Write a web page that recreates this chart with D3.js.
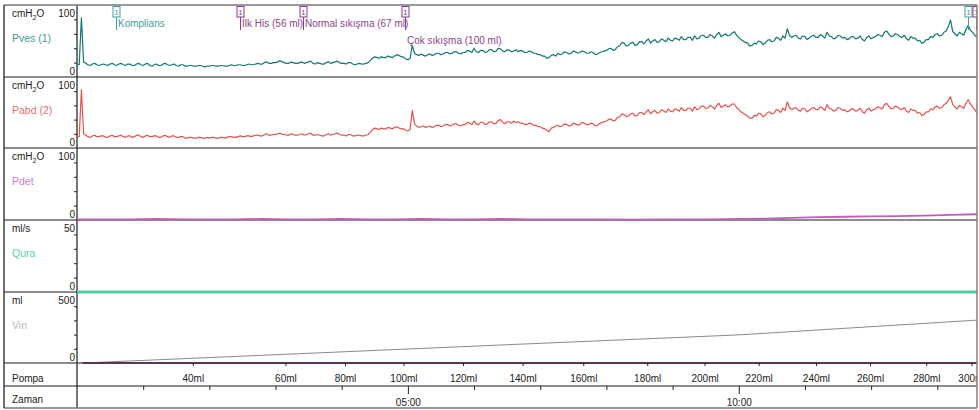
<!DOCTYPE html>
<html>
<head>
<meta charset="utf-8">
<script src="https://cdn.jsdelivr.net/npm/d3@7/dist/d3.min.js"></script>
<style>
  body { margin: 0; background: #fff; }
  svg { display: block; font-family: "Liberation Sans", Arial, sans-serif; }
</style>
</head>
<body>
<svg id="chart" width="979" height="410"></svg>
<script>
// --- data ---
const sampleSec = 2; // Pves / Pabd sample step (s)
const pvesValues = [
  17,17, 82,21, 19,17, 16,18, 19,17, 16,17, 18,17, 16,18, 19,17, 16,18,
  19,17, 16,18, 18,16, 16,18, 19,17, 16,18, 19,16, 15,17, 18,16, 16,18,
  19,17, 16,17, 18,16, 15,17, 17,15, 15,16, 16,15, 15,16, 16,15, 14,15,
  15,16, 16,15, 15,16, 16,15, 15,16, 17,16, 16,17, 17,16, 16,17, 18,17,
  17,18, 19,18, 18,20, 21,19, 19,20, 20,21, 23,21, 20,19, 19,21, 20,19,
  19,20, 21,19, 20,21, 22,19, 18,20, 19,18, 18,20, 21,19, 20,21, 22,20,
  19,19, 18,20, 20,18, 17,18, 19,18, 18,19, 20,23, 26,28, 27,26, 28,27,
  27,29, 28,27, 29,31, 30,28, 28,25, 24,26, 44,33, 31,30, 32,30, 29,31,
  32,30, 31,33, 33,31, 32,34, 34,32, 33,35, 35,33, 32,34, 34,37, 36,34,
  40,35, 34,37, 37,34, 35,38, 38,35, 36,40, 39,36, 35,38, 37,35, 36,38,
  35,37, 36,34, 34,36, 35,33, 33,31, 31,29, 29,26, 27,30, 31,29, 33,31,
  32,35, 34,32, 33,36, 35,33, 34,36, 35,33, 33,35, 34,31, 32,34, 35,36,
  37,39, 40,37, 38,42, 43,48, 47,43, 44,47, 48,44, 45,49, 49,46, 50,53,
  47,50, 52,48, 49,53, 51,49, 54,51, 50,54, 53,51, 56,52, 52,55, 55,51,
  57,53, 54,58, 58,55, 55,59, 57,54, 59,62, 56,58, 60,57, 58,61, 63,58,
  55,52, 50,48, 47,43, 44,47, 46,50, 49,45, 47,51, 52,49, 50,55, 54,51,
  57,54, 67,58, 55,57, 58,54, 53,57, 56,52, 54,57, 58,55, 55,59, 57,54,
  62,57, 56,53, 54,58, 57,54, 55,52, 53,56, 56,53, 54,57, 52,50, 55,57,
  53,55, 56,59, 58,56, 62,64, 60,56, 57,60, 59,56, 55,58, 53,51, 56,54,
  54,50, 51,47, 48,52, 52,56, 55,59, 60,57, 58,62, 64,70, 79,63, 60,57,
  62,60, 58,66, 72,65, 62,58, 55
];
const pabdValues = [
  16,16, 82,20, 18,16, 15,17, 18,16, 16,17, 17,15, 15,17, 18,16, 16,17,
  18,16, 15,17, 17,15, 16,18, 18,16, 15,17, 18,16, 16,17, 17,15, 15,17,
  18,16, 15,17, 17,15, 15,16, 16,14, 14,15, 15,14, 14,15, 15,14, 14,15,
  14,15, 15,14, 14,15, 15,14, 15,16, 16,15, 15,16, 17,16, 16,17, 17,16,
  17,18, 18,17, 17,19, 20,18, 18,19, 19,20, 21,19, 19,18, 18,20, 19,18,
  18,19, 20,18, 19,20, 21,18, 18,19, 18,17, 17,19, 20,18, 19,20, 21,19,
  18,18, 17,19, 19,17, 17,18, 18,17, 17,18, 19,22, 26,28, 27,26, 28,27,
  27,29, 28,27, 29,30, 28,27, 27,25, 24,26, 53,34, 31,29, 30,31, 29,30,
  31,29, 30,32, 32,30, 31,33, 33,31, 32,34, 34,32, 31,33, 33,36, 35,33,
  38,34, 33,36, 36,33, 34,37, 37,34, 35,39, 40,36, 34,37, 37,35, 38,36,
  37,35, 35,33, 33,35, 34,32, 32,30, 30,28, 27,25, 23,28, 29,31, 32,30,
  31,34, 33,31, 32,35, 34,32, 33,36, 35,33, 33,35, 34,31, 32,35, 36,37,
  38,40, 41,38, 39,43, 44,48, 47,44, 45,48, 49,45, 46,50, 50,47, 51,54,
  48,51, 53,49, 50,54, 52,50, 55,52, 51,55, 54,52, 57,53, 53,56, 56,52,
  58,54, 55,59, 59,56, 56,60, 58,55, 60,63, 57,59, 61,58, 59,62, 62,57,
  54,51, 49,47, 45,42, 42,46, 45,49, 48,44, 46,50, 51,48, 49,54, 53,50,
  56,53, 65,57, 54,56, 57,53, 52,56, 55,51, 53,56, 57,54, 54,58, 56,53,
  61,56, 55,52, 53,57, 56,53, 54,51, 52,55, 55,52, 53,56, 51,49, 54,56,
  52,54, 55,58, 57,55, 61,63, 59,55, 56,59, 58,55, 54,57, 52,50, 55,53,
  53,49, 50,46, 47,51, 51,55, 54,58, 59,56, 57,61, 63,67, 72,61, 58,55,
  60,58, 56,63, 68,62, 58,54, 49
];
const pdetStepSec = 24;
const pdetValues = [
  1, 1, 1, 1.5, 1, 1, 1, 1.5, 1, 1,
  1.5, 1, 1, 1.5, 1, 1, 1.5, 1, 1, 1,
  1, 0.5, 1, 1, 1, 1.5, 2, 3, 4, 4.5,
  5, 5.5, 6, 7, 8
];
const quraTimes = [0, 816];
const quraValues = [0, 0];
const vinTimes = [5, 200, 400, 600, 816];
const vinValues = [0, 65, 132, 198, 302];
const pumpRun = [5, 816];

const pumpVolumes = [40, 60, 80, 100, 120, 140, 160, 180, 200, 220, 240, 260, 280, 300];
const pumpTimes = [105, 189, 243, 296, 350, 404, 459, 517, 569, 618, 670, 719, 770, 811];
const minuteTicks = [1, 2, 3, 4, 5, 6, 7, 8, 9, 10, 11, 12, 13];
const minuteLabels = [5, 10];

const markerTimes = [35, 148, 205, 297, 808, 815];
const markerLabels = ['Komplians', 'İlk His (56 ml)', 'Normal sıkışma (67 ml)', 'Çok sıkışma (100 ml)', '', ''];
const markerKinds = ['event', 'sense', 'sense', 'sense', 'event', 'sense'];
const markerRows = [0, 0, 0, 1, 0, 0];

// --- layout ---
const W = 979, H = 410;
const frameL = 4, divX = 77, frameR = 977, frameT = 5, frameB = 408;
const totalSec = 816;

const panels = [
  { unit: 'cmH2O', name: 'Pves (1)', max: 100, ticks: [20, 40, 60, 80], top: 5, bottom: 77, nameColor: '#3f9b96' },
  { unit: 'cmH2O', name: 'Pabd (2)', max: 100, ticks: [20, 40, 60, 80], top: 77, bottom: 148, nameColor: '#e2706b' },
  { unit: 'cmH2O', name: 'Pdet', max: 100, ticks: [20, 40, 60, 80], top: 148, bottom: 220, nameColor: '#d27ccd' },
  { unit: 'ml/s', name: 'Qura', max: 50, ticks: [10, 20, 30, 40], top: 220, bottom: 292, nameColor: '#62d0aa' },
  { unit: 'ml', name: 'Vin', max: 500, ticks: [100, 200, 300, 400], top: 292, bottom: 363, nameColor: '#b9b9b9' }
];
const pompaY = 363, zamanY = 386;

const svg = d3.select('#chart');
svg.append('rect').attr('width', W).attr('height', H).attr('fill', '#fff');

const x = d3.scaleLinear().domain([0, totalSec]).range([divX, frameR]);
panels.forEach(p => {
  p.y = d3.scaleLinear().domain([0, p.max]).range([p.bottom, p.top]);
});

svg.append('clipPath').attr('id', 'plotClip')
  .append('rect').attr('x', divX).attr('y', frameT).attr('width', frameR - divX).attr('height', frameB - frameT);

// panel labels and y ticks
panels.forEach(p => {
  const g = svg.append('g');
  const u = g.append('text').attr('x', 12).attr('y', p.top + 8).attr('dy', '0.35em')
    .attr('font-size', 10).attr('fill', '#222');
  if (p.unit === 'cmH2O') {
    u.append('tspan').text('cmH');
    u.append('tspan').text('2').attr('font-size', 7).attr('dy', 3);
    u.append('tspan').text('O').attr('dy', -3);
  } else {
    u.text(p.unit);
  }
  g.append('text').attr('x', 12).attr('y', p.top + 33).attr('dy', '0.35em')
    .attr('font-size', 10.5).attr('fill', p.nameColor).text(p.name);
  g.append('text').attr('x', 75).attr('y', p.top + 8).attr('dy', '0.35em')
    .attr('text-anchor', 'end').attr('font-size', 10).attr('fill', '#222').text(p.max);
  g.append('text').attr('x', 75).attr('y', p.bottom - 6).attr('dy', '0.35em')
    .attr('text-anchor', 'end').attr('font-size', 10).attr('fill', '#222').text(0);

  const ax = svg.append('g').attr('transform', `translate(${divX},0)`)
    .call(d3.axisLeft(p.y).tickValues(p.ticks).tickSize(3).tickFormat(''));
  ax.select('.domain').remove();
  ax.selectAll('line').attr('stroke', '#222');
});

// row labels
svg.append('text').attr('x', 12).attr('y', 378).attr('dy', '0.35em')
  .attr('font-size', 10).attr('fill', '#222').text('Pompa');
svg.append('text').attr('x', 12).attr('y', 399).attr('dy', '0.35em')
  .attr('font-size', 10).attr('fill', '#222').text('Zaman');

// grid separators
const sepYs = [77, 148, 220, 292, 363, 386];
svg.append('g').selectAll('line').data(sepYs).join('line')
  .attr('x1', frameL).attr('x2', frameR).attr('y1', d => d).attr('y2', d => d)
  .attr('stroke', '#1a1a1a').attr('stroke-width', 1.2);
svg.append('line').attr('x1', divX).attr('x2', divX).attr('y1', frameT).attr('y2', frameB)
  .attr('stroke', '#1a1a1a').attr('stroke-width', 1.2);

// traces
const plot = svg.append('g').attr('clip-path', 'url(#plotClip)');
function trace(times, values, p, color, w) {
  const line = d3.line().x((d, i) => x(times[i])).y(d => p.y(d));
  plot.append('path').datum(values)
    .attr('d', line).attr('fill', 'none')
    .attr('stroke', color).attr('stroke-width', w).attr('stroke-linejoin', 'round');
}
const fastTimes = pvesValues.map((d, i) => i * sampleSec);
const pdetTimes = pdetValues.map((d, i) => i * pdetStepSec);

trace(fastTimes, pvesValues, panels[0], '#13776f', 1.2);
trace(fastTimes, pabdValues, panels[1], '#e4534d', 1.2);
trace(pdetTimes, pdetValues, panels[2], '#c35dbd', 1.8);
trace(vinTimes, vinValues, panels[4], '#8a8a8a', 1);
trace(quraTimes, quraValues, panels[3], '#52c9a1', 3);

// pump running line at the Vin baseline
plot.append('line')
  .attr('x1', x(pumpRun[0])).attr('x2', x(pumpRun[1]))
  .attr('y1', panels[4].y(0)).attr('y2', panels[4].y(0))
  .attr('stroke', '#4a1a40').attr('stroke-width', 1.6);

// pump volume axis
const pompaAxis = plot.append('g').attr('transform', `translate(0,${pompaY})`)
  .call(d3.axisBottom(x).tickValues(pumpTimes).tickSize(3).tickPadding(9)
    .tickFormat((d, i) => pumpVolumes[i] + 'ml'));
pompaAxis.select('.domain').remove();
pompaAxis.selectAll('text').attr('font-size', 10).attr('fill', '#222')
  .attr('font-family', '"Liberation Sans", Arial, sans-serif');
pompaAxis.selectAll('line').attr('stroke', '#222');

// time axis
const minorAxis = plot.append('g').attr('transform', `translate(0,${zamanY})`)
  .call(d3.axisBottom(x).tickValues(minuteTicks.filter(m => !minuteLabels.includes(m)).map(m => m * 60))
    .tickSize(4).tickFormat(''));
minorAxis.select('.domain').remove();
minorAxis.selectAll('line').attr('stroke', '#222');
const majorAxis = plot.append('g').attr('transform', `translate(0,${zamanY})`)
  .call(d3.axisBottom(x).tickValues(minuteLabels.map(m => m * 60)).tickSize(8).tickPadding(5)
    .tickFormat(d => d3.format('02d')(d / 60) + ':00'));
majorAxis.select('.domain').remove();
majorAxis.selectAll('line').attr('stroke', '#222');
majorAxis.selectAll('text').attr('font-size', 10).attr('fill', '#222')
  .attr('font-family', '"Liberation Sans", Arial, sans-serif');

// event markers
const kindColor = { event: '#3f9d9d', sense: '#8a3b8a' };
const mk = plot.append('g').selectAll('g').data(markerTimes).join('g')
  .attr('transform', d => `translate(${Math.round(x(d)) + 0.5},0)`);
mk.append('line').attr('y1', 17).attr('y2', 30)
  .attr('stroke', (d, i) => kindColor[markerKinds[i]]).attr('stroke-width', 1);
mk.append('rect').attr('x', -3.5).attr('y', 6.5).attr('width', 7).attr('height', 10.5)
  .attr('fill', '#fff').attr('stroke', (d, i) => kindColor[markerKinds[i]]);
mk.append('text').attr('x', 0).attr('y', 15).attr('text-anchor', 'middle')
  .attr('font-size', 8).attr('fill', (d, i) => kindColor[markerKinds[i]]).text('1');
mk.append('text').attr('x', 1.5).attr('y', (d, i) => markerRows[i] ? 44 : 27)
  .attr('font-size', 10).attr('fill', (d, i) => markerKinds[i] === 'event' ? '#3f9d9d' : '#8e3f8e')
  .text((d, i) => markerLabels[i]);

// outer frame
svg.append('line').attr('x1', frameL).attr('x2', frameR).attr('y1', frameT).attr('y2', frameT)
  .attr('stroke', '#777').attr('stroke-width', 1.6);
svg.append('line').attr('x1', frameL).attr('x2', frameR).attr('y1', frameB).attr('y2', frameB)
  .attr('stroke', '#777').attr('stroke-width', 1.6);
svg.append('line').attr('x1', frameL).attr('x2', frameL).attr('y1', frameT).attr('y2', frameB)
  .attr('stroke', '#333').attr('stroke-width', 1.4);
svg.append('line').attr('x1', frameR).attr('x2', frameR).attr('y1', frameT).attr('y2', frameB)
  .attr('stroke', '#888').attr('stroke-width', 1.6);
</script>
</body>
</html>
